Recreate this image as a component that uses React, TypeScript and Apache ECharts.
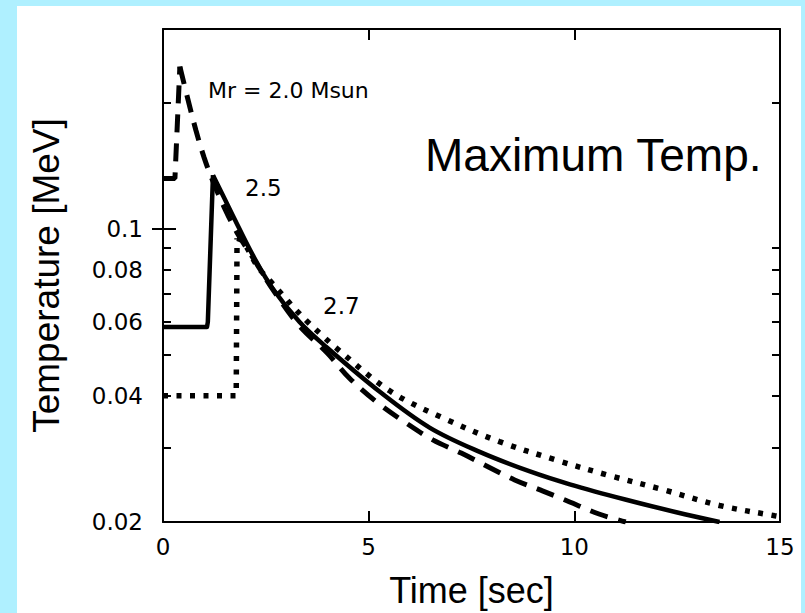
import React, { useEffect, useRef } from "react";
import * as echarts from "echarts";

// Time [sec] vs maximum temperature [MeV]
// Each model: initial plateau + jump (stepPart), then the cooling curve (decayPart)
const dashedMr20Step: [number, number][] = [
  [0, 0.132], [0.29, 0.132], [0.41, 0.244],
];
const dashedMr20Decay: [number, number][] = [
  [0.41, 0.244], [0.6, 0.205], [0.8, 0.172], [1.0, 0.148],
  [1.2, 0.131], [1.5, 0.112], [1.8, 0.098], [2.2, 0.085], [2.7, 0.071], [3.3, 0.059],
  [4.0, 0.0505], [4.54, 0.044], [5.23, 0.0384], [5.92, 0.0344], [6.56, 0.0314],
  [7.25, 0.0292], [7.9, 0.0271], [8.55, 0.0252], [9.24, 0.0237], [9.76, 0.0226],
  [10.6, 0.0209], [11.25, 0.02],
];
const solidMr25Step: [number, number][] = [
  [0, 0.0584], [1.07, 0.0584], [1.09, 0.06], [1.215, 0.1344],
];
const solidMr25Decay: [number, number][] = [
  [1.215, 0.1344], [1.7, 0.1076],
  [2.19, 0.0864], [2.67, 0.072], [3.32, 0.06], [3.97, 0.0523], [5.27, 0.0409],
  [6.48, 0.0336], [7.7, 0.0294], [8.92, 0.0264], [9.89, 0.0246], [11.26, 0.0226],
  [12.48, 0.0211], [13.53, 0.02],
];
const dottedMr27Step: [number, number][] = [
  [0, 0.04], [1.78, 0.04], [1.8, 0.095],
];
const dottedMr27Decay: [number, number][] = [
  [1.8, 0.095], [1.94, 0.0935], [2.31, 0.0811], [2.63, 0.0747],
  [2.92, 0.0694], [3.2, 0.0646], [3.52, 0.06], [3.89, 0.0555], [4.2, 0.0521],
  [5.53, 0.041], [6.87, 0.0352], [8.18, 0.0311], [9.56, 0.0281], [10.86, 0.0258],
  [12.15, 0.0239], [13.53, 0.0219], [14.87, 0.0207], [15, 0.0206],
];

const yLabelValues = [0.02, 0.04, 0.06, 0.08, 0.1];
const yMinorTicks = [0.03, 0.04, 0.05, 0.06, 0.07, 0.08, 0.09, 0.2];
const yMajorTicks = [0.1];
const xTicks = [0, 5, 10, 15];
const yMin = 0.02;
const yMax = 0.3;

const lg = (v: number) => Math.log10(v);
const toLog = (arr: [number, number][]) => arr.map(([t, T]) => [t, lg(T)]);

const tickFont = "DejaVu Sans";
const nameFont = "Liberation Sans";

const dashed = { color: "#000", width: 5, type: [18, 11] as number[] };
const solid = { color: "#000", width: 4.5, type: "solid", join: "round" };
const dotted = { color: "#000", width: 5.5, type: [5, 8.5] as number[] };

export default function App() {
  const ref = useRef<HTMLDivElement>(null);
  useEffect(() => {
    if (!ref.current) return;
    const chart = echarts.init(ref.current, null, { renderer: "svg" });
    const baseY = {
      type: "value" as const,
      min: lg(yMin),
      max: lg(yMax),
      splitLine: { show: false },
    };
    const fmt = (v: number) => String(parseFloat(Math.pow(10, v).toPrecision(3)));
    const line = (name: string, data: [number, number][], style: any, smooth: boolean) => ({
      name,
      type: "line",
      data: toLog(data),
      showSymbol: false,
      symbol: "none",
      smooth: smooth ? 0.35 : false,
      lineStyle: style,
    });
    chart.setOption({
      animation: false,
      backgroundColor: "transparent",
      grid: { left: 163, right: 25, top: 29, bottom: 89 },
      xAxis: [
        {
          type: "value",
          min: 0,
          max: 15,
          interval: 5,
          position: "bottom",
          axisLine: { show: true, onZero: false, lineStyle: { color: "#000", width: 2 } },
          axisTick: { show: true, inside: true, length: 11, lineStyle: { color: "#000", width: 2 }, customValues: xTicks },
          axisLabel: { show: true, margin: 13, color: "#000", fontFamily: tickFont, fontSize: 23, showMinLabel: true, showMaxLabel: true, customValues: xTicks },
          splitLine: { show: false },
          name: "Time [sec]",
          nameLocation: "middle",
          nameGap: 50,
          nameTextStyle: { color: "#000", fontFamily: nameFont, fontSize: 36 },
        },
        {
          type: "value",
          min: 0,
          max: 15,
          interval: 5,
          position: "top",
          axisLine: { show: true, onZero: false, lineStyle: { color: "#000", width: 2 } },
          axisTick: { show: true, inside: true, length: 11, lineStyle: { color: "#000", width: 2 }, customValues: xTicks },
          axisLabel: { show: false },
          splitLine: { show: false },
        },
      ],
      yAxis: [
        {
          ...baseY,
          position: "left",
          axisLine: { show: true, onZero: false, lineStyle: { color: "#000", width: 2 } },
          axisTick: { show: true, inside: true, length: 8, lineStyle: { color: "#000", width: 2 }, customValues: yMinorTicks.map(lg) },
          axisLabel: { show: true, margin: 20, color: "#000", fontFamily: tickFont, fontSize: 23, formatter: fmt, customValues: yLabelValues.map(lg) },
          name: "Temperature [MeV]",
          nameLocation: "middle",
          nameGap: 98,
          nameTextStyle: { color: "#000", fontFamily: nameFont, fontSize: 37 },
        },
        {
          ...baseY,
          position: "left",
          axisLine: { show: false },
          axisTick: { show: true, inside: true, length: 13, lineStyle: { color: "#000", width: 2 }, customValues: yMajorTicks.map(lg) },
          axisLabel: { show: false },
        },
        {
          ...baseY,
          position: "right",
          axisLine: { show: true, onZero: false, lineStyle: { color: "#000", width: 2 } },
          axisTick: { show: true, inside: true, length: 8, lineStyle: { color: "#000", width: 2 }, customValues: yMinorTicks.map(lg) },
          axisLabel: { show: false },
        },
        {
          ...baseY,
          position: "right",
          axisLine: { show: false },
          axisTick: { show: true, inside: true, length: 11, lineStyle: { color: "#000", width: 2 }, customValues: yMajorTicks.map(lg) },
          axisLabel: { show: false },
        },
      ],
      series: [
        line("Mr = 2.0 Msun", dashedMr20Step, dashed, false),
        line("Mr = 2.0 Msun", dashedMr20Decay, dashed, true),
        line("2.5", solidMr25Step, solid, false),
        line("2.5", solidMr25Decay, solid, true),
        line("2.7", dottedMr27Step, dotted, false),
        line("2.7", dottedMr27Decay, dotted, true),
      ],
      graphic: [
        { type: "text", left: 208, top: 79, style: { text: "Mr = 2.0 Msun", font: `22px "${tickFont}"`, fill: "#000" } },
        { type: "text", left: 245, top: 176, style: { text: "2.5", font: `23px "${tickFont}"`, fill: "#000" } },
        { type: "text", left: 323, top: 294, style: { text: "2.7", font: `23px "${tickFont}"`, fill: "#000" } },
        { type: "text", left: 425, top: 132, style: { text: "Maximum Temp.", font: `46px "${nameFont}"`, fill: "#000" } },
      ],
    });
    return () => chart.dispose();
  }, []);
  return (
    <div style={{ position: "absolute", left: 0, top: 0, width: 805, height: 613, background: "#aff0ff", overflow: "hidden" }}>
      <div style={{ position: "absolute", left: 17, top: 6, width: 784, height: 607, background: "#fff" }} />
      <div ref={ref} style={{ position: "absolute", left: 0, top: 0, width: 805, height: 613 }} />
    </div>
  );
}
